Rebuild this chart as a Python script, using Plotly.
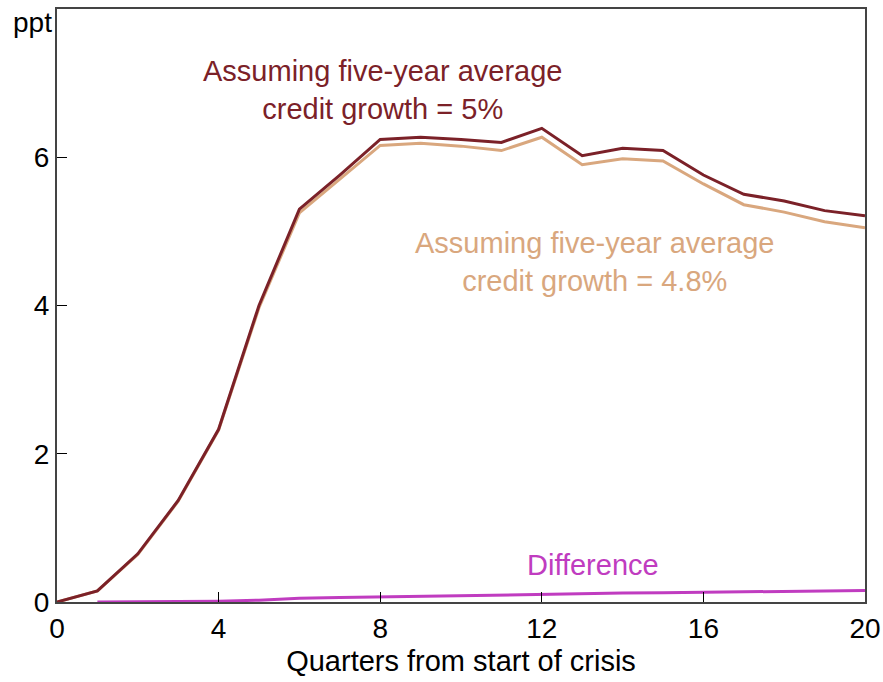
import plotly.graph_objects as go

quarters = list(range(0, 21))
credit_5 = [0.0, 0.15, 0.65, 1.37, 2.33, 4.00, 5.30, 5.76, 6.24, 6.27, 6.24, 6.20, 6.39,
            6.02, 6.12, 6.09, 5.76, 5.50, 5.41, 5.28, 5.21]
credit_48 = [0.0, 0.15, 0.64, 1.36, 2.32, 3.97, 5.25, 5.70, 6.16, 6.19, 6.15, 6.09, 6.27,
             5.90, 5.98, 5.95, 5.64, 5.36, 5.26, 5.13, 5.05]
diff_quarters = list(range(1, 21))
difference = [0.0, 0.002, 0.005, 0.01, 0.025, 0.05, 0.06, 0.07, 0.08, 0.09, 0.10, 0.11,
              0.115, 0.12, 0.125, 0.13, 0.14, 0.145, 0.15, 0.155]

x_ticks = [0, 4, 8, 12, 16, 20]
y_ticks = [0, 2, 4, 6]

DARK = "#7B2128"
TAN = "#D9A77E"
MAG = "#C03CC0"
FONT = "Liberation Sans, Arial, sans-serif"

fig = go.Figure()
fig.add_trace(go.Scatter(x=quarters, y=credit_48, mode="lines",
                         line=dict(color=TAN, width=3), hoverinfo="skip"))
fig.add_trace(go.Scatter(x=quarters, y=credit_5, mode="lines",
                         line=dict(color=DARK, width=3), hoverinfo="skip"))
fig.add_trace(go.Scatter(x=diff_quarters, y=difference, mode="lines",
                         line=dict(color=MAG, width=3), hoverinfo="skip"))

fig.add_annotation(x=8.05, y=6.91, text="Assuming five-year average<br>credit growth = 5%",
                   showarrow=False, font=dict(color=DARK, size=29, family=FONT),
                   xanchor="center", yanchor="middle")
fig.add_annotation(x=13.3, y=4.59, text="Assuming five-year average<br>credit growth = 4.8%",
                   showarrow=False, font=dict(color=TAN, size=29, family=FONT),
                   xanchor="center", yanchor="middle")
fig.add_annotation(x=13.27, y=0.5, text="Difference",
                   showarrow=False, font=dict(color=MAG, size=29, family=FONT),
                   xanchor="center", yanchor="middle")
fig.add_annotation(xref="paper", yref="paper", x=0, y=1, text="ppt",
                   showarrow=False, font=dict(color="black", size=28, family=FONT),
                   xanchor="right", yanchor="top", xshift=-3, yshift=4)

fig.update_layout(
    width=883, height=682,
    margin=dict(l=57, r=18, t=9, b=80, autoexpand=False),
    paper_bgcolor="white", plot_bgcolor="white",
    showlegend=False,
    font=dict(family=FONT, color="black", size=28),
)
fig.update_xaxes(range=[0, 20], tickvals=x_ticks, ticks="inside", ticklen=10,
                 tickcolor="black", tickwidth=1, showgrid=False, zeroline=False,
                 showline=True, linecolor="#444444", linewidth=2, mirror=True,
                 automargin=False,
                 tickfont=dict(size=28), title=dict(text="Quarters from start of crisis",
                 font=dict(size=29), standoff=8))
fig.update_yaxes(range=[0, 8], tickvals=y_ticks, ticks="inside", ticklen=10,
                 tickcolor="black", tickwidth=1, showgrid=False, zeroline=False,
                 showline=True, linecolor="#444444", linewidth=2, mirror=True,
                 automargin=False,
                 tickfont=dict(size=28))

fig.write_html("out.html", config={"displayModeBar": False, "responsive": False},
               post_script=("document.documentElement.style.overflow='hidden';"
                            "document.body.style.margin='0';"
                            "document.body.style.overflow='hidden';"))
